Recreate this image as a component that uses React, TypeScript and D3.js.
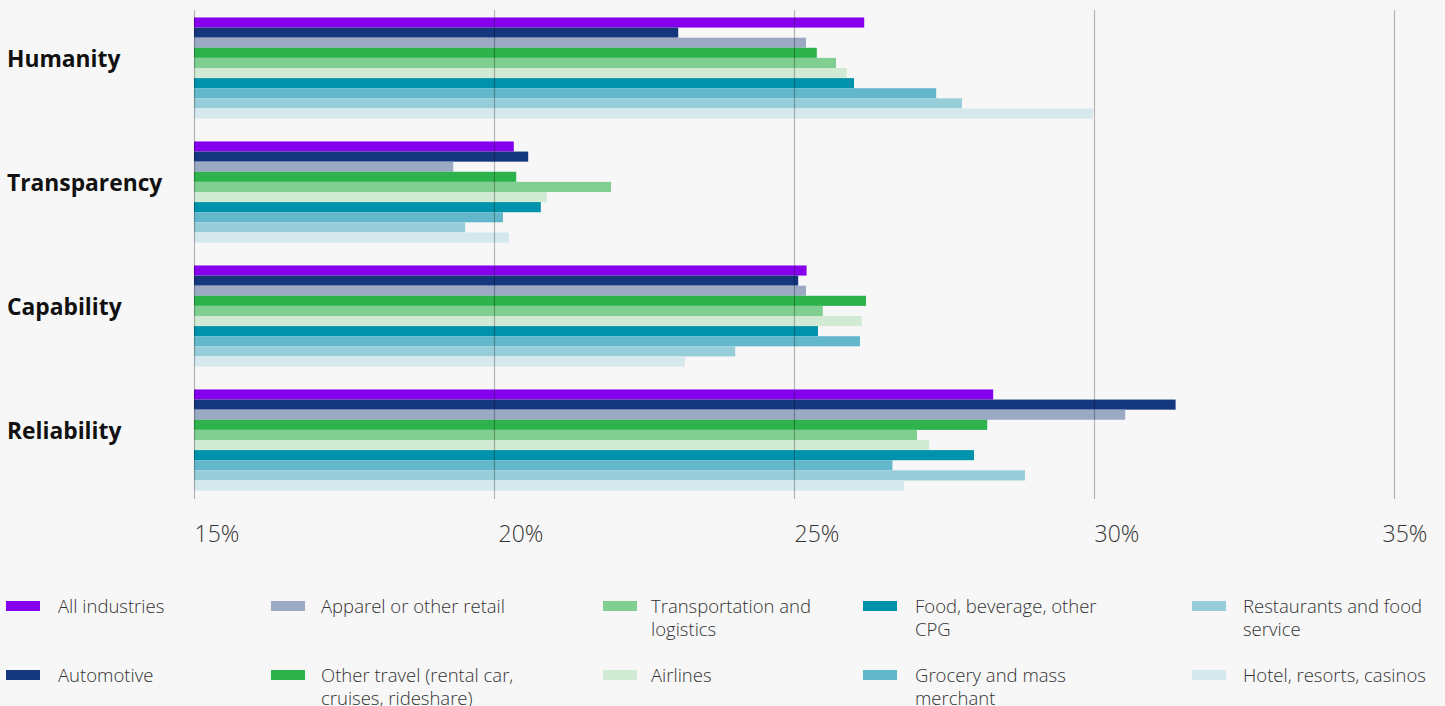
import { useEffect, useRef } from 'react';
import * as d3 from 'd3';

const categories = ['Humanity', 'Transparency', 'Capability', 'Reliability'];

const seriesNames = [
  'All industries',
  'Automotive',
  'Apparel or other retail',
  'Other travel (rental car, cruises, rideshare)',
  'Transportation and logistics',
  'Airlines',
  'Food, beverage, other CPG',
  'Grocery and mass merchant',
  'Restaurants and food service',
  'Hotel, resorts, casinos',
];

const seriesColors = [
  '#8600ed', '#15377e', '#9ba9c5', '#2eb24b', '#80cf90',
  '#d1ead4', '#0092ab', '#62b8ca', '#96cdd8', '#d4e8ed',
];

// values per category, in series order (percent)
const humanity = [26.17, 23.07, 25.2, 25.38, 25.7, 25.88, 26.0, 27.37, 27.8, 29.98];
const transparency = [20.33, 20.57, 19.32, 20.37, 21.95, 20.88, 20.78, 20.15, 19.52, 20.25];
const capability = [25.21, 25.07, 25.2, 26.2, 25.48, 26.13, 25.4, 26.1, 24.02, 23.18];
const reliability = [28.32, 31.36, 30.52, 28.22, 27.05, 27.25, 28.0, 26.64, 28.85, 26.83];

const values = [humanity, transparency, capability, reliability];

const xTicks = [15, 20, 25, 30, 35];

export default function App() {
  const svgRef = useRef<SVGSVGElement>(null);

  useEffect(() => {
    if (!svgRef.current) return;
    document.body.style.margin = '0';

    const svg = d3.select(svgRef.current);
    svg.selectAll('*').remove();

    const width = 1445;
    const height = 706;
    const font = '"Open Sans", "Noto Sans", sans-serif';

    svg.attr('width', width).attr('height', height).attr('viewBox', `0 0 ${width} ${height}`);

    svg.append('rect')
      .attr('width', width)
      .attr('height', height)
      .attr('fill', '#f7f7f7');

    const xScale = d3.scaleLinear().domain([15, 35]).range([194, 1394]);

    const yScale = d3.scaleBand<string>()
      .domain(categories)
      .range([6, 502])
      .paddingInner(0.185)
      .paddingOuter(0.0925);

    const ySub = d3.scaleBand<number>()
      .domain(d3.range(seriesNames.length))
      .range([0, yScale.bandwidth()]);

    // Bars
    const groups = svg.append('g')
      .selectAll('g')
      .data(categories)
      .enter()
      .append('g')
      .attr('transform', d => `translate(0,${yScale(d)})`);

    groups.selectAll('rect')
      .data((_, i) => values[i].map((v, j) => ({ v, j })))
      .enter()
      .append('rect')
      .attr('x', xScale(15))
      .attr('y', d => ySub(d.j)!)
      .attr('width', d => xScale(d.v) - xScale(15))
      .attr('height', ySub.bandwidth())
      .attr('fill', d => seriesColors[d.j]);

    // Category labels
    svg.append('g')
      .selectAll('text')
      .data(categories)
      .enter()
      .append('text')
      .attr('x', 7)
      .attr('y', d => yScale(d)! + yScale.bandwidth() / 2 - 1.5)
      .style('font-family', font)
      .style('font-size', '22.8px')
      .style('font-weight', '700')
      .attr('fill', '#111')
      .text(d => d);

    // Grid lines (drawn over bars)
    const grid = svg.append('g')
      .attr('transform', 'translate(0,499)')
      .call(d3.axisBottom(xScale).tickValues(xTicks).tickSize(-489).tickFormat(() => ''));
    grid.select('.domain').remove();
    grid.selectAll('line')
      .attr('stroke', '#000')
      .attr('stroke-opacity', 0.27)
      .attr('stroke-width', 1.2);

    // Tick labels
    const axis = svg.append('g')
      .attr('transform', 'translate(0,542)')
      .call(d3.axisBottom(xScale).tickValues(xTicks).tickSize(0).tickFormat(d => `${d}%`));
    axis.select('.domain').remove();
    axis.selectAll('text')
      .attr('y', 0)
      .attr('dy', 0)
      .attr('text-anchor', 'start')
      .attr('dx', (d: any) => (d === 35 ? -12 : d === 20 ? 4 : 0))
      .attr('fill', '#333')
      .style('font-family', font)
      .style('font-size', '23px')
      .style('font-weight', '300');

    // Legend
    const colX = [6, 271, 603, 863, 1192];
    const textDx = [52, 50, 48, 52, 51];
    const rowY = [601, 670];
    const legend = svg.append('g');

    seriesNames.forEach((name, i) => {
      const col = Math.floor(i / 2);
      const row = i % 2;
      const tx = textDx[col];
      const item = legend.append('g')
        .attr('transform', `translate(${colX[col]},${rowY[row]})`);

      item.append('rect')
        .attr('width', 34)
        .attr('height', 10)
        .attr('fill', seriesColors[i]);

      const text = item.append('text')
        .attr('x', tx)
        .attr('y', 12)
        .attr('fill', '#333')
        .style('font-family', font)
        .style('font-size', '18.5px')
        .style('font-weight', '300');

      // simple word wrap
      const words = name.split(' ');
      let line: string[] = [];
      let lineNo = 0;
      let tspan = text.append('tspan').attr('x', tx).attr('y', 12);
      words.forEach(w => {
        line.push(w);
        tspan.text(line.join(' '));
        if ((tspan.node() as SVGTSpanElement).getComputedTextLength() > 210 && line.length > 1) {
          line.pop();
          tspan.text(line.join(' '));
          line = [w];
          lineNo += 1;
          tspan = text.append('tspan')
            .attr('x', tx)
            .attr('y', 12 + lineNo * 22.5)
            .text(w);
        }
      });
    });
  }, []);

  return <svg ref={svgRef} style={{ display: 'block' }} />;
}
